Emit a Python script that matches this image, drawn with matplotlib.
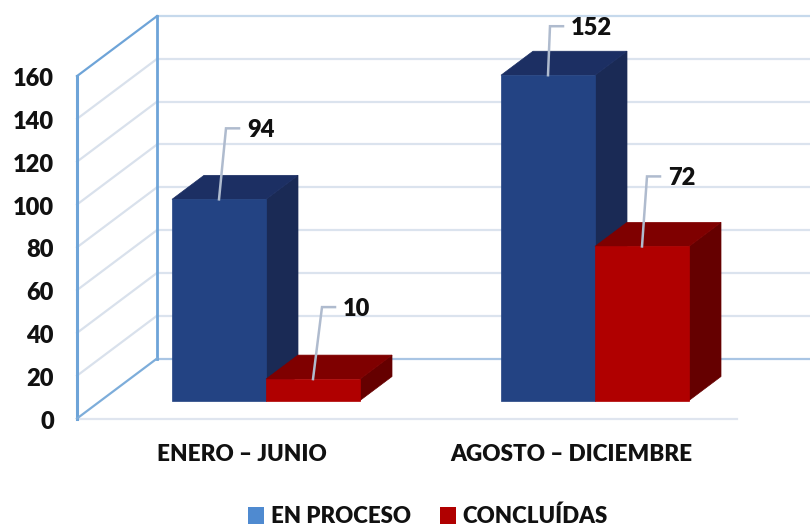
import matplotlib
matplotlib.use("Agg")
import matplotlib.pyplot as plt
from matplotlib.patches import Patch, Polygon

categories = ["ENERO – JUNIO", "AGOSTO – DICIEMBRE"]
series_names = ["EN PROCESO", "CONCLUÍDAS"]
en_proceso = [94, 152]
concluidas = [10, 72]
y_ticks = [0, 20, 40, 60, 80, 100, 120, 140, 160]

plt.rcParams['font.family'] = ['Lato', 'DejaVu Sans']

PX_Y = 2.14      # pixels per unit of value
PX_X = 329.0     # pixels per category
Y0 = 418.5       # pixel row of value 0 on the front edge
X0 = 266.0       # pixel column of the first category

WALL_DX = 80 / PX_X
WALL_DY = 60 / PX_Y
BAR_W = 94 / PX_X
BAR_DX = 32 / PX_X
BAR_DY = 24 / PX_Y
BAR_BASE = 18 / PX_Y

fig = plt.figure(figsize=(8.1, 5.27), dpi=100)
ax = fig.add_axes([0, 0, 1, 1])
ax.set_xlim(-X0 / PX_X, (810 - X0) / PX_X)
ax.set_ylim((Y0 - 527) / PX_Y, Y0 / PX_Y)
ax.axis("off")

wall_left = -189 / PX_X
wall_right = 544 / PX_X
floor_right = 471 / PX_X

# walls
for t in y_ticks[1:-1]:
    ax.plot([wall_left, wall_left + WALL_DX], [t, t + WALL_DY], color="#d9e1ec", lw=1.6, zorder=1)
    ax.plot([wall_left + WALL_DX, wall_right], [t + WALL_DY, t + WALL_DY], color="#dbe3ee", lw=1.6, zorder=1)
ax.plot([wall_left, floor_right], [0, 0], color="#dfe5ef", lw=1.6, zorder=1)
ax.plot([wall_left + WALL_DX, wall_right], [WALL_DY, WALL_DY], color="#a9c5e4", lw=1.6, zorder=1)
ax.plot([wall_left + WALL_DX, 740 / PX_X], [160 + WALL_DY, 160 + WALL_DY], color="#c6d9ec", lw=1.6, zorder=1)
ax.plot([wall_left, wall_left], [0, 160], color="#6ea4d8", lw=2.2, zorder=2)
ax.plot([wall_left + WALL_DX] * 2, [WALL_DY, 160 + WALL_DY], color="#6ea4d8", lw=2.0, zorder=2)
ax.plot([wall_left, wall_left + WALL_DX], [160, 160 + WALL_DY], color="#6ea4d8", lw=1.6, zorder=2)
ax.plot([wall_left, wall_left + WALL_DX], [0, WALL_DY], color="#7dadda", lw=1.6, zorder=2)


def draw_bar(left, value, front, top, side, z):
    base = BAR_BASE
    right = left + BAR_W
    ax.add_patch(Polygon([(right, base), (right + BAR_DX, base + BAR_DY),
                          (right + BAR_DX, base + value + BAR_DY), (right, base + value)],
                         facecolor=side, edgecolor=side, lw=0.5, zorder=z))
    ax.add_patch(Polygon([(left, base + value), (right, base + value),
                          (right + BAR_DX, base + value + BAR_DY), (left + BAR_DX, base + value + BAR_DY)],
                         facecolor=top, edgecolor=top, lw=0.5, zorder=z))
    ax.add_patch(Polygon([(left, base), (right, base), (right, base + value), (left, base + value)],
                         facecolor=front, edgecolor=front, lw=0.5, zorder=z + 0.1))


blue = ("#234383", "#1c2f63", "#1a2a55")
red = ("#b00000", "#7f0000", "#650000")

# leader lines: (dx to elbow, rise to elbow) in px
leaders_blue = [(7, 71), (2, 49)]
leaders_red = [(9, 72), (5, 70)]

for i in range(len(categories)):
    draw_bar(i - BAR_W, en_proceso[i], *blue, 3 + i)
    draw_bar(i, concluidas[i], *red, 3.5 + i)
    for left, v, (dx, rise) in [(i - BAR_W, en_proceso[i], leaders_blue[i]),
                                (i, concluidas[i], leaders_red[i])]:
        cx = left + BAR_W / 2
        y = BAR_BASE + v
        ex = cx + dx / PX_X
        ey = y + rise / PX_Y
        ax.plot([cx, ex, ex + 13 / PX_X], [y, ey, ey], color="#afbbce", lw=1.8, zorder=8,
                solid_joinstyle="miter")
        ax.text(ex + 21 / PX_X, ey, str(v), ha="left", va="center_baseline", fontsize=17,
                fontweight=800, color="#111111", zorder=9)
    ax.text(i - 24 / PX_X, -16, categories[i], ha="center", va="center_baseline", fontsize=16.2,
            fontweight=800, color="#111111")

for t in y_ticks:
    ax.text(-212 / PX_X, t - 0.5, str(t), ha="right", va="center_baseline", fontsize=17,
            fontweight=800, color="#111111")

handles = [Patch(facecolor="#4f8ad0", label=series_names[0]), Patch(facecolor="#b00000", label=series_names[1])]
ax.legend(handles=handles, loc="center", bbox_to_anchor=(428 / 810, 1 - 516.5 / 527), ncol=2, frameon=False,
          prop={"size": 16, "weight": 800}, handlelength=0.72, handleheight=0.8, handletextpad=0.3,
          columnspacing=1.3, labelcolor="#111111", borderpad=0, borderaxespad=0)

fig.savefig("out.png", dpi=100)
